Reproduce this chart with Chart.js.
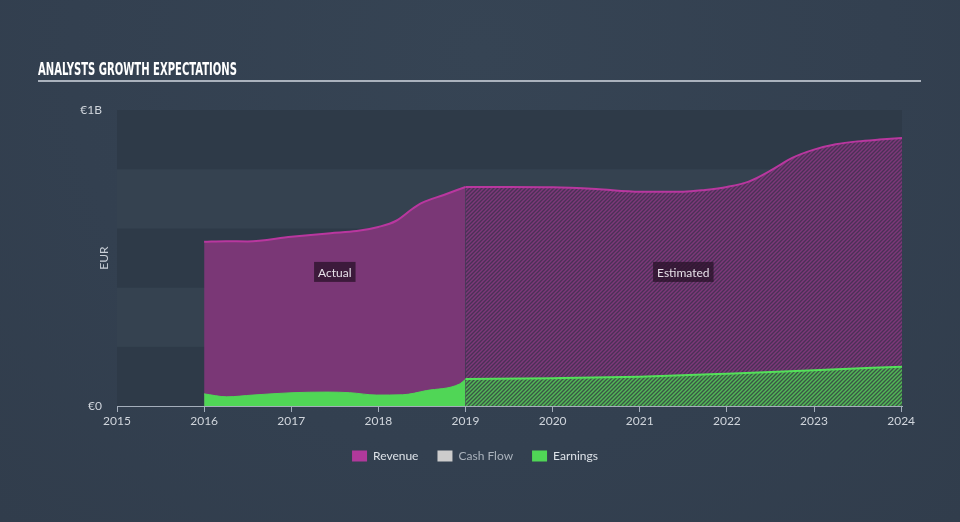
<!DOCTYPE html>
<html>
<head>
<meta charset="utf-8">
<script src="https://cdn.jsdelivr.net/npm/chart.js@4.4.1/dist/chart.umd.min.js"></script>
<style>
  html, body { margin: 0; padding: 0; background: #344150; }
  #wrap { width: 960px; height: 522px; position: relative; background: radial-gradient(ellipse at 50% 10%, #364454 0%, #334050 60%, #313d4c 100%); }
  canvas { display: block; }
</style>
</head>
<body>
<div id="wrap"><canvas id="c" width="960" height="522"></canvas></div>
<script>
// ---- Data (EUR billions, x = decimal year) ----
const revenueActualX = [2016, 2016.25, 2016.5, 2017, 2017.45, 2017.75, 2018, 2018.2, 2018.4, 2018.5, 2018.75, 2019];
const revenueActual  = [0.555, 0.557, 0.556, 0.572, 0.584, 0.591, 0.605, 0.625, 0.668, 0.686, 0.713, 0.74];
const revenueEstX = [2019, 2019.5, 2020, 2020.5, 2021, 2021.5, 2021.75, 2022, 2022.25, 2022.5, 2022.75, 2023, 2023.25, 2023.5, 2023.75, 2024.01];
const revenueEst  = [0.74, 0.74, 0.739, 0.733, 0.724, 0.724, 0.73, 0.74, 0.758, 0.795, 0.838, 0.866, 0.884, 0.894, 0.9, 0.905];
const earningsActualX = [2016, 2016.26, 2016.56, 2017.02, 2017.41, 2017.67, 2017.98, 2018.28, 2018.55, 2018.93, 2019];
const earningsActual  = [0.041, 0.031, 0.037, 0.045, 0.047, 0.045, 0.037, 0.038, 0.052, 0.074, 0.09];
const earningsEstX = [2019, 2020, 2021, 2022, 2023, 2024.01];
const earningsEst  = [0.091, 0.094, 0.099, 0.109, 0.121, 0.133];
const xTickYears = [2015, 2016, 2017, 2018, 2019, 2020, 2021, 2022, 2023, 2024];
const yTickValues = [0, 1];
const yTickLabels = ['€0', '€1B'];
const legendNames = ['Revenue', 'Cash Flow', 'Earnings'];
const annotations = [{ text: 'Actual', x: 2017.5, y: 0.453 }, { text: 'Estimated', x: 2021.5, y: 0.453 }];

const FONT = 'Lato, "Open Sans", sans-serif';

function zip(xs, ys) { return xs.map((x, i) => ({ x: x, y: ys[i] })); }

function hatch(bg, fg) {
  const s = 4;
  const p = document.createElement('canvas');
  p.width = s; p.height = s;
  const g = p.getContext('2d');
  g.fillStyle = bg; g.fillRect(0, 0, s, s);
  g.strokeStyle = fg; g.lineWidth = 1.5;
  g.beginPath();
  g.moveTo(-1, s + 1); g.lineTo(s + 1, -1);
  g.moveTo(-1 - s, s + 1); g.lineTo(1, -1);
  g.moveTo(s - 1, s + 1); g.lineTo(s * 2 + 1, -1);
  g.stroke();
  return g.createPattern(p, 'repeat');
}

const ctx = document.getElementById('c').getContext('2d');
const revPattern = hatch('#4a3156', '#7d3879');
const earnPattern = hatch('#3a5546', '#52b856');

const decor = {
  id: 'decor',
  afterLayout(chart) {
    if (chart.legend) { chart.legend.left += 24; chart.legend.right += 24; }
  },
  beforeDatasetsDraw(chart) {
    const { ctx, chartArea, scales } = chart;
    const y = scales.y;
    ctx.save();
    for (let i = 0; i < 5; i++) {
      const top = y.getPixelForValue((i + 1) * 0.2);
      const bot = y.getPixelForValue(i * 0.2);
      ctx.fillStyle = (i % 2 === 0) ? '#2e3a48' : '#354250';
      ctx.fillRect(chartArea.left, top, chartArea.right - chartArea.left, bot - top);
    }
    ctx.restore();
  },
  afterDatasetsDraw(chart) {
    const { ctx, scales } = chart;
    ctx.save();
    ctx.font = '12px ' + FONT;
    ctx.textAlign = 'center';
    ctx.textBaseline = 'middle';
    annotations.forEach(a => {
      const px = scales.x.getPixelForValue(a.x);
      const py = scales.y.getPixelForValue(a.y);
      const w = ctx.measureText(a.text).width + 8;
      ctx.fillStyle = 'rgba(40,18,40,0.75)';
      ctx.fillRect(px - w / 2, py - 10, w, 20);
      ctx.fillStyle = '#e6e0e8';
      ctx.fillText(a.text, px, py + 1);
    });
    ctx.restore();
  },
  afterDraw(chart) {
    const { ctx, chartArea } = chart;
    ctx.save();
    ctx.fillStyle = '#ffffff';
    ctx.font = 'bold 17px "Liberation Sans Narrow", "DejaVu Sans Condensed", sans-serif';
    ctx.textBaseline = 'alphabetic';
    ctx.textAlign = 'left';
    ctx.fillText('ANALYSTS GROWTH EXPECTATIONS', 38, 75, 199);
    ctx.fillStyle = '#aab2bd';
    ctx.fillRect(38, 80, 883, 2);
    ctx.translate(104, (chartArea.top + chartArea.bottom) / 2);
    ctx.rotate(-Math.PI / 2);
    ctx.font = '12px ' + FONT;
    ctx.fillStyle = '#c8ced6';
    ctx.textAlign = 'center';
    ctx.textBaseline = 'middle';
    ctx.fillText('EUR', 0, 0);
    ctx.restore();
  }
};

new Chart(ctx, {
  type: 'line',
  data: {
    datasets: [
      { label: 'Earnings', data: zip(earningsActualX, earningsActual), fill: 'origin',
        backgroundColor: '#50d656', borderColor: '#50d656', borderWidth: 1 },
      { label: 'Earnings est', data: zip(earningsEstX, earningsEst), fill: 'origin',
        backgroundColor: earnPattern, borderColor: '#54e05a', borderWidth: 2 },
      { label: 'Revenue', data: zip(revenueActualX, revenueActual), fill: 'origin',
        backgroundColor: '#7a3776', borderColor: '#b9379f', borderWidth: 2 },
      { label: 'Revenue est', data: zip(revenueEstX, revenueEst), fill: 'origin',
        backgroundColor: revPattern, borderColor: '#b9379f', borderWidth: 2 }
    ]
  },
  options: {
    responsive: false,
    animation: false,
    events: [],
    layout: { padding: { left: 0, right: 58, top: 110, bottom: 50 } },
    elements: {
      point: { radius: 0 },
      line: { cubicInterpolationMode: 'monotone' }
    },
    scales: {
      x: {
        type: 'linear', min: 2015, max: 2024.01,
        afterBuildTicks: s => { s.ticks = xTickYears.map(v => ({ value: v })); },
        afterFit: s => { s.height = 25; },
        grid: { display: true, drawOnChartArea: false, tickLength: 6, color: '#a4aebb', lineWidth: 1 },
        border: { display: true, color: '#a4aebb', width: 1 },
        ticks: { color: '#d0d5dc', font: { family: FONT, size: 12 }, padding: 2, maxRotation: 0,
                 callback: v => String(v) }
      },
      y: {
        type: 'linear', min: 0, max: 1,
        afterBuildTicks: s => { s.ticks = yTickValues.map(v => ({ value: v })); },
        afterFit: s => { s.width = 117; },
        grid: { display: false },
        border: { display: false },
        ticks: { color: '#d0d5dc', font: { family: FONT, size: 12 }, padding: 7,
                 callback: v => yTickLabels[yTickValues.indexOf(v)] }
      }
    },
    plugins: {
      tooltip: { enabled: false },
      legend: {
        position: 'bottom',
        labels: {
          boxWidth: 15, boxHeight: 11, padding: 19,
          font: { family: FONT, size: 12 },
          color: '#dde2e8',
          generateLabels: () => [
            { text: legendNames[0], fillStyle: '#b0399b', strokeStyle: '#b0399b', lineWidth: 0, fontColor: '#dde2e8' },
            { text: legendNames[1], fillStyle: '#cccccc', strokeStyle: '#cccccc', lineWidth: 0, fontColor: '#aab2bc' },
            { text: legendNames[2], fillStyle: '#50d656', strokeStyle: '#50d656', lineWidth: 0, fontColor: '#dde2e8' }
          ]
        }
      }
    }
  },
  plugins: [decor]
});
</script>
</body>
</html>
